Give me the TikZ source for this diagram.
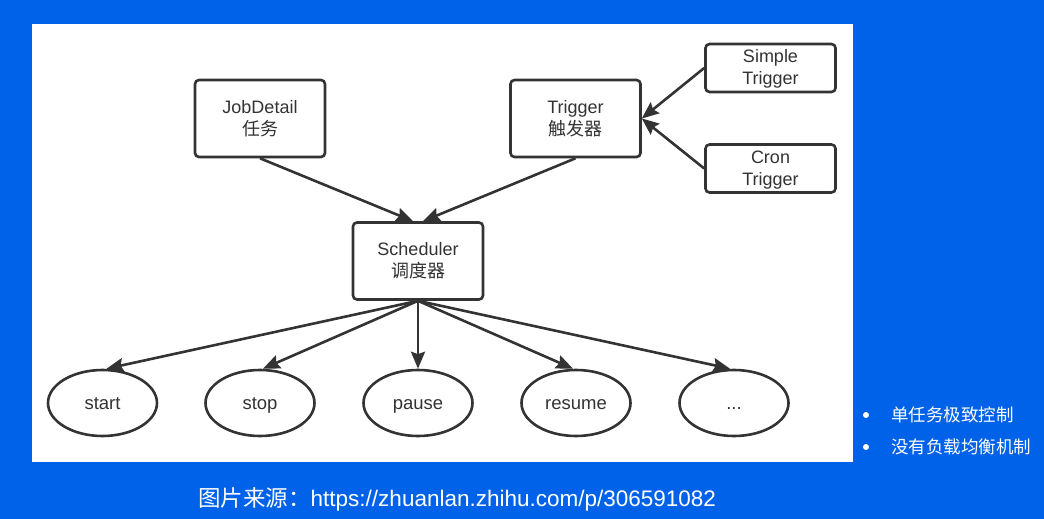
\documentclass[tikz,border=0pt]{standalone}
\usepackage{fontspec}
\setmainfont{Liberation Sans}
\newfontfamily\cjk{Noto Sans CJK SC}
\usetikzlibrary{arrows.meta,shapes.geometric}
\definecolor{bgblue}{RGB}{0,98,232}
\definecolor{ink}{RGB}{51,51,51}
\begin{document}
\begin{tikzpicture}[x=1pt,y=-1pt,
  box/.style={draw=ink,line width=2.6pt,rounded corners=4pt,minimum width=130pt,minimum height=77pt,
    align=center,inner sep=0pt,text=ink,font=\fontsize{18}{22}\selectfont},
  smallbox/.style={box,minimum height=48pt},
  oval/.style={draw=ink,line width=2.6pt,ellipse,minimum width=109pt,minimum height=66pt,inner sep=0pt,
    text height=15pt,text depth=2pt,text=ink,font=\fontsize{18.5}{22}\selectfont},
  arr/.style={draw=ink,line width=2.6pt,-{Stealth[length=17pt,width=14pt,inset=2.5pt]}},
  note/.style={text=white,anchor=west,inner sep=0pt,font=\cjk\fontsize{17.5}{21}\selectfont},
  dot/.style={circle,fill=white,inner sep=0pt,minimum size=6pt}]
\useasboundingbox (0,0) rectangle (1044,519);
\fill[bgblue] (0,0) rectangle (1044,519);
\fill[white] (32,24) rectangle (853,462);

\node[box] (job) at (260,118.5) {JobDetail\\{\cjk 任务}};
\node[box] (trig) at (575.5,118.5) {Trigger\\{\cjk 触发器}};
\node[box] (sch) at (418,261) {Scheduler\\{\cjk 调度器}};
\node[smallbox] (simple) at (770.5,68) {\strut Simple\\Trigger};
\node[smallbox] (cron) at (770.5,168.5) {\strut Cron\\Trigger};

\node[oval] (e1) at (102.5,403) {start};
\node[oval] (e2) at (260,403) {stop};
\node[oval] (e3) at (418,403) {pause};
\node[oval] (e4) at (576,403) {resume};
\node[oval] (e5) at (734,403) {...};

\draw[arr] (job.south) -- ([xshift=-5pt]sch.north);
\draw[arr] (trig.south) -- ([xshift=5pt]sch.north);
\draw[arr] (simple.west) -- (trig.east);
\draw[arr] (cron.west) -- (trig.east);
\draw[arr] (sch.south) -- ([xshift=4pt]e1.north);
\draw[arr] (sch.south) -- ([xshift=3pt]e2.north);
\draw[arr] (sch.south) -- (e3.north);
\draw[arr] (sch.south) -- ([xshift=-3pt]e4.north);
\draw[arr] (sch.south) -- ([xshift=-4pt]e5.north);

\node[dot] (b1) at (866,415) {};
\node[dot] (b2) at (866,447) {};
\node[note] (n1) at (891,415) {单任务极致控制};
\node[note] (n2) at (891,447) {没有负载均衡机制};

\node[anchor=west,inner sep=0pt,text=white,font=\fontsize{22.5}{26}\selectfont] (src) at (198,499)
  {{\cjk 图片来源：}https://zhuanlan.zhihu.com/p/306591082};
\end{tikzpicture}
\end{document}
